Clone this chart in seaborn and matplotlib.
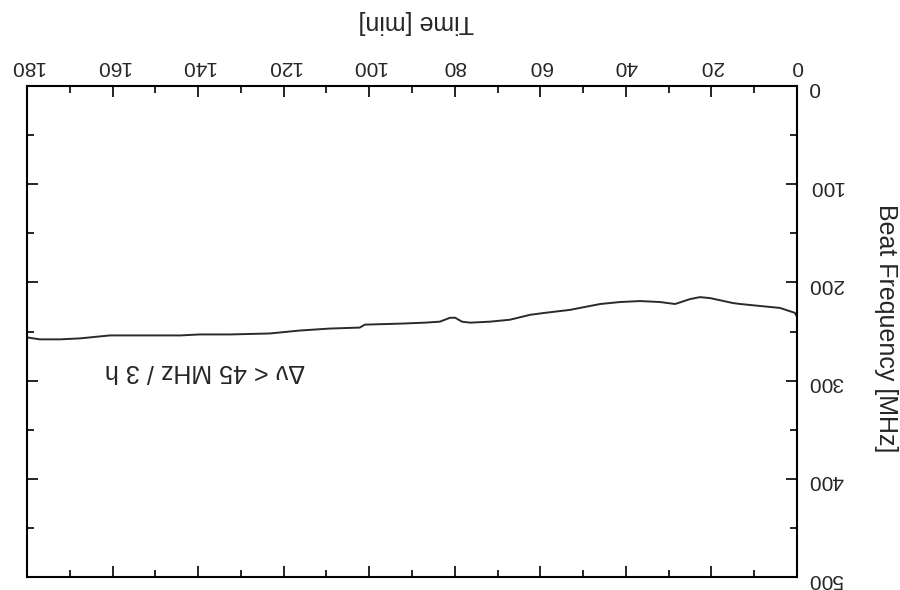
import matplotlib
matplotlib.use("Agg")
import matplotlib.pyplot as plt
import seaborn as sns
import pandas as pd
from matplotlib.ticker import MultipleLocator

# Data read from the (upside-down) reference
time_min = [0, 0.5, 4.0, 13.3, 15.0, 20.3, 22.7, 25.0, 28.5, 32.0, 36.7, 41.4,
            46.0, 53.1, 58.9, 62.4, 67.1, 71.8, 76.4, 78.3, 79.9, 81.1, 83.5,
            87.0, 92.8, 101.0, 102.2, 109.2, 116.2, 123.2, 132.5, 139.6, 144.2,
            160.6, 167.6, 172.3, 177.0, 180.0]
beat_mhz = [235, 231, 226, 222, 221, 216, 215, 217, 222, 220, 219, 220,
            222, 228, 231, 233, 238, 240, 241, 240, 236, 236, 240,
            241, 242, 243, 246, 247, 249, 252, 253, 253, 254,
            254, 257, 258, 258, 256]
x_ticks = [0, 20, 40, 60, 80, 100, 120, 140, 160, 180]
y_ticks = [0, 100, 200, 300, 400, 500]
x_label = "Time [min]"
y_label = "Beat Frequency [MHz]"
note = "Δν < 45 MHz / 3 h"

df = pd.DataFrame({"t": time_min, "f": beat_mhz})

sns.set_style("ticks")
plt.rcParams["font.family"] = ["Liberation Sans", "DejaVu Sans"]

fig = plt.figure(figsize=(9, 5.9), dpi=100)
ax = fig.add_axes([27 / 900, 1 - 577 / 590, 770 / 900, 491 / 590])

sns.lineplot(data=df, x="t", y="f", ax=ax, color="#2a2a2a", linewidth=1.4)

ax.set_xlim(180, 0)
ax.set_ylim(500, 0)
ax.set_xticks(x_ticks)
ax.set_yticks(y_ticks)
ax.xaxis.set_minor_locator(MultipleLocator(10))
ax.yaxis.set_minor_locator(MultipleLocator(50))

ax.xaxis.tick_top()
ax.yaxis.tick_right()
ax.tick_params(which="both", direction="in", top=True, bottom=True,
               left=True, right=True, color="black", width=1.2)
ax.tick_params(which="major", length=8)
ax.tick_params(which="minor", length=5)
ax.tick_params(axis="x", labelrotation=180, labelsize=15, pad=7,
               labeltop=True, labelbottom=False)
ax.tick_params(axis="y", labelrotation=180, labelsize=15, pad=8,
               labelright=True, labelleft=False)
for s in ax.spines.values():
    s.set_color("black")
    s.set_linewidth(1.5)

ax.set_xlabel("")
ax.set_ylabel("")
fig.text(416 / 900, 1 - 22 / 590, x_label, rotation=180, ha="center",
         va="center", fontsize=18)
fig.text(886 / 900, 1 - 328 / 590, y_label, rotation=270, ha="center",
         va="center", fontsize=18)
ax.text(138.4, 290, note, rotation=180, ha="center", va="center", fontsize=18)

fig.savefig("out.png", dpi=100, facecolor="white")
